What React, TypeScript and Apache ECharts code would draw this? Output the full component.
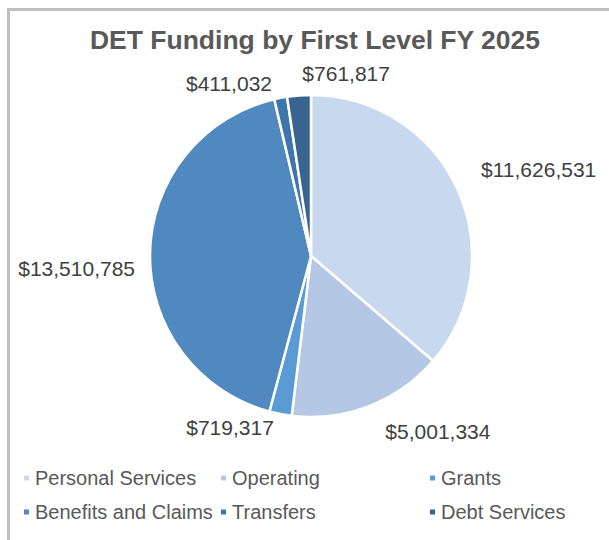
import React, { useEffect, useRef } from "react";
import * as echarts from "echarts";

const categories = ["Personal Services", "Operating", "Grants", "Benefits and Claims", "Transfers", "Debt Services"];
const values = [11626531, 5001334, 719317, 13510785, 411032, 761817];
const colors = ["#c8d8ee", "#b4c8e6", "#5b9bd5", "#4f89c0", "#3e75ad", "#3a6490"];
const titleText = "DET Funding by First Level FY 2025";

const fmt = (v: number) => "$" + v.toLocaleString("en-US");

// style-only nudges of the outside labels (Excel-like "best fit" placement)
const labelNudge: [number, number][] = [
  [6, -13],
  [6, 12],
  [1, 0],
  [4, 15],
  [-1, -1],
  [97, -8],
];

const legendCols = [22, 219, 428];
const legendRows = [468, 502];

export default function App() {
  const ref = useRef<HTMLDivElement>(null);
  useEffect(() => {
    if (!ref.current) return;
    const chart = echarts.init(ref.current, undefined, { renderer: "svg" });
    const legends = categories.map((c, i) => ({
      show: true,
      data: [c],
      left: legendCols[i % 3],
      top: legendRows[Math.floor(i / 3)],
      padding: 0,
      orient: "horizontal",
      icon: "rect",
      itemWidth: 7,
      itemHeight: 7,
      itemGap: 6,
      selectedMode: false,
      textStyle: { color: "#595959", fontSize: 20, fontFamily: "Liberation Sans, Arial, sans-serif" },
    }));
    chart.setOption({
      animation: false,
      backgroundColor: "#ffffff",
      title: {
        text: titleText,
        left: 315,
        textAlign: "center",
        top: 26,
        padding: 0,
        textStyle: { color: "#595959", fontSize: 26.5, fontWeight: "bold", fontFamily: "Liberation Sans, Arial, sans-serif" },
      },
      legend: legends,
      graphic: [
        { type: "rect", shape: { x: 7, y: 8, width: 602, height: 3 }, style: { fill: "#bfbfbf" } },
        { type: "rect", shape: { x: 7, y: 8, width: 3, height: 532 }, style: { fill: "#bfbfbf" } },
      ],
      series: [
        {
          type: "pie",
          center: [311, 256],
          radius: 161,
          startAngle: 90,
          clockwise: true,
          avoidLabelOverlap: false,
          data: categories.map((c, i) => ({ name: c, value: values[i], itemStyle: { color: colors[i] } })),
          itemStyle: { borderColor: "#ffffff", borderWidth: 2.5 },
          label: {
            show: true,
            position: "outside",
            formatter: (p: any) => fmt(p.value),
            color: "#404040",
            fontSize: 21,
            fontFamily: "Liberation Sans, Arial, sans-serif",
          },
          labelLine: { show: false, length: 14, length2: 0 },
          labelLayout: (p: any) => ({
            dx: labelNudge[p.dataIndex][0],
            dy: labelNudge[p.dataIndex][1],
            hideOverlap: false,
          }),
          emphasis: { disabled: true },
        },
      ],
    });
    return () => chart.dispose();
  }, []);
  return (
    <div style={{ position: "absolute", left: 0, top: 0, width: 609, height: 540 }}>
      <div ref={ref} style={{ width: 609, height: 540 }} />
    </div>
  );
}
